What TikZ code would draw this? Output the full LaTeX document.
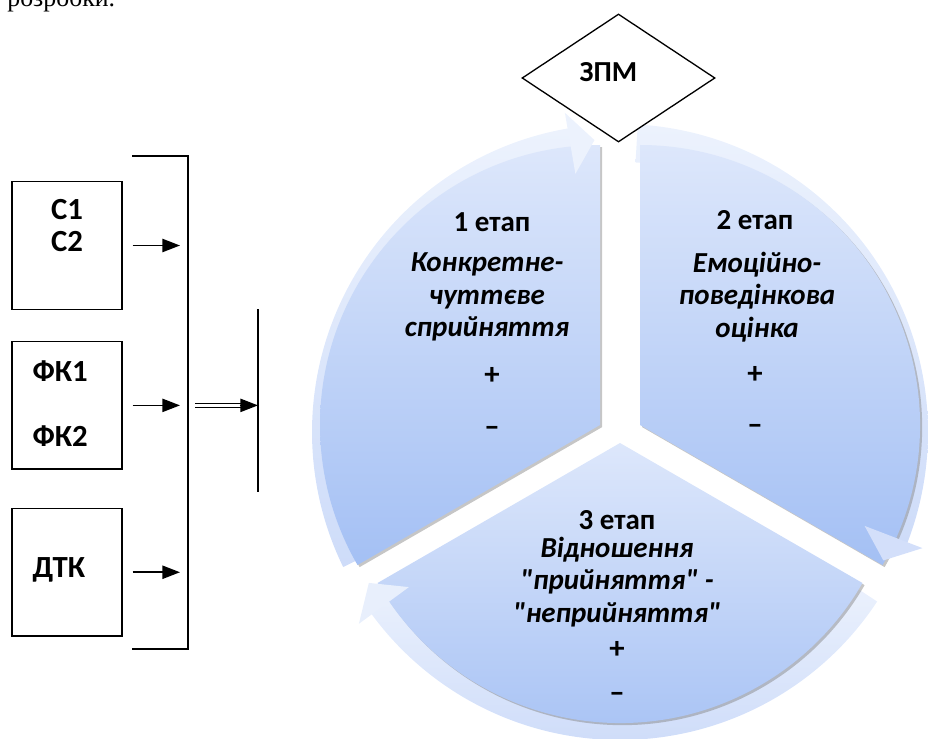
\documentclass[tikz,border=0pt]{standalone}
\usepackage{fontspec}
\setmainfont{Carlito}[Ligatures=TeXOff]
\newfontfamily\pagefont{Liberation Serif}
\usetikzlibrary{positioning, arrows.meta, shapes.geometric, shadows}

\definecolor{sectop}{RGB}{221,231,251}
\definecolor{secbot}{RGB}{164,192,244}
\definecolor{ringtop}{RGB}{236,242,253}
\definecolor{ringbot}{RGB}{206,220,249}

\tikzstyle{srcbox} = [rectangle, draw, line width=0.8pt, minimum width=2.2cm, minimum height=2.55cm]
\tikzstyle{boxtext} = [font=\fontsize{17.5}{18.7}\selectfont\bfseries, align=center, inner sep=0pt]
\tikzstyle{feed} = [line width=0.95pt, -{Triangle[length=10pt, width=7.5pt]}]
\tikzstyle{rail} = [line width=0.8pt]
\tikzstyle{merge} = [line width=0.6pt, double, double distance=1.7pt]
\tikzstyle{sector} = [top color=sectop, bottom color=secbot, drop shadow={shadow xshift=1.2pt, shadow yshift=-1.2pt, opacity=0.45}]
\tikzstyle{ring} = [top color=ringtop, bottom color=ringbot]
\tikzstyle{gate} = [diamond, draw, fill=white, line width=0.75pt, minimum width=3.86cm, minimum height=2.56cm, inner sep=0pt]
\tikzstyle{gatetext} = [font=\fontsize{16.5}{18}\selectfont\bfseries, inner sep=0pt]
\tikzstyle{stage} = [font=\fontsize{16.5}{18.4}\selectfont\bfseries, align=center, inner sep=0pt]
\tikzstyle{descr} = [font=\fontsize{16.5}{18.4}\selectfont\bfseries\itshape, align=center, inner sep=0pt]
\tikzstyle{sign} = [font=\fontsize{17.5}{18}\selectfont\bfseries, inner sep=0pt]

\begin{document}
\begin{tikzpicture}[x=0.02cm, y=0.02cm]
  \useasboundingbox (0,0) rectangle (928,738);

  % Page text cut off at the top
  \node (pagetext) [anchor=base west, inner sep=0pt, font=\pagefont\fontsize{14.7}{17}\selectfont] at (7,731) {розробки.};

  % Source blocks
  \node (box1) [srcbox] at (67,492.5) {};
  \node (box2) [srcbox, below=0.62cm of box1] {};
  \node (box3) [srcbox, below=0.76cm of box2] {};

  \node (c12) [boxtext] at ([yshift=-0.89cm]box1.north) {С1\\С2};
  \node (fk1) [boxtext, anchor=west] at ([xshift=0.42cm, yshift=-0.6cm]box2.north west) {ФК1};
  \node (fk2) [boxtext, anchor=west] at ([xshift=0.42cm, yshift=-1.9cm]box2.north west) {ФК2};
  \node (dtk) [boxtext, anchor=west] at ([xshift=0.42cm, yshift=-1.24cm]box3.north west) {ДТК};

  % Bracket and collector line
  \coordinate (brtop) at (188,582);
  \coordinate (brbot) at (188,89);
  \coordinate (coltop) at (258,429);
  \coordinate (colbot) at (258,246);
  \draw[rail] (brtop) ++(-56,0) -- (brtop) -- (brbot) -- ++(-56,0);
  \draw[rail, line width=0.6pt] (coltop) -- (colbot);

  % Arrows into the bracket
  \draw[feed, shorten <=0.2cm, shorten >=0.16cm] (box1.east) -- (box1.east -| brtop);
  \draw[feed, shorten <=0.2cm, shorten >=0.16cm] (box2.east) -- (box2.east -| brtop);
  \draw[feed, shorten <=0.2cm, shorten >=0.16cm] (box3.east) -- (box3.east -| brtop);

  % Double arrow to the collector
  \coordinate (mergestart) at (box2.east -| brtop);
  \coordinate (mergeend) at (box2.east -| coltop);
  \draw[merge, shorten <=0.14cm, shorten >=8pt] (mergestart) -- (mergeend);
  \draw[feed] ([xshift=-10.5pt]mergeend) -- (mergeend);

  % Cycle
  \coordinate (ctr) at (620,306);
  \coordinate (apex1) at (600,313);
  \coordinate (apex2) at (640,313);
  \coordinate (apex3) at (620,295);

  % Ring bodies (behind the sectors)
  \path[ring] ([shift={(206:308)}]ctr) arc[start angle=206, end angle=99.5, radius=308]
    -- ([shift={(99.5:270)}]ctr) arc[start angle=99.5, end angle=206, radius=270] -- cycle;
  \path[ring] ([shift={(86.7:308)}]ctr) arc[start angle=86.7, end angle=-21.3, radius=308]
    -- ([shift={(-21.3:270)}]ctr) arc[start angle=-21.3, end angle=86.7, radius=270] -- cycle;
  \path[ring] ([shift={(-33.4:308)}]ctr) arc[start angle=-33.4, end angle=-144, radius=308]
    -- ([shift={(-144:270)}]ctr) arc[start angle=-144, end angle=-33.4, radius=270] -- cycle;

  % Sectors
  \path[sector] (apex1) -- ++(90:280) arc[start angle=90, end angle=210, radius=280] -- cycle;
  \path[sector] (apex2) -- ++(-30:280) arc[start angle=-30, end angle=90, radius=280] -- cycle;
  \path[sector] (apex3) -- ++(210:280) arc[start angle=210, end angle=330, radius=280] -- cycle;

  % Ring heads (over the sectors)
  \fill[ringtop] ([shift={(99.8:324)}]ctr) -- ([shift={(95:293)}]ctr) -- ([shift={(99.8:262)}]ctr) -- cycle;
  \fill[ringbot!85!ringtop] ([shift={(-21:324)}]ctr) -- ([shift={(-26:293)}]ctr) -- ([shift={(-21:262)}]ctr) -- cycle;
  \fill[ringtop!85!ringbot] ([shift={(-143.7:324)}]ctr) -- ([shift={(-149:293)}]ctr) -- ([shift={(-143.7:262)}]ctr) -- cycle;

  % Goal
  \node (zpm) [gate] at (618.5,660) {};
  \node (zpmtext) [gatetext] at ([xshift=-0.2cm, yshift=0.12cm]zpm.center) {ЗПМ};

  % Stage 1
  \node (st1) [stage] at (492,516) {1 етап};
  \node (ds1) [descr] at ([xshift=-0.1cm, yshift=-1.5cm]st1) {Конкретне-\\чуттєве\\сприйняття};
  \node (plus1) [sign] at ([yshift=-3.08cm]st1) {+};
  \node (minus1) [sign] at ([yshift=-1.12cm]plus1) {–};

  % Stage 2
  \node (st2) [stage] at (755,518) {2 етап};
  \node (ds2) [descr] at ([xshift=0.04cm, yshift=-1.54cm]st2) {Емоційно-\\поведінкова\\оцінка};
  \node (plus2) [sign] at ([yshift=-3.1cm]st2) {+};
  \node (minus2) [sign] at ([yshift=-1.1cm]plus2) {–};

  % Stage 3
  \node (st3) [stage] at (617,218) {3 етап};
  \node (ds3) [descr] at ([yshift=-1.24cm]st3) {Відношення\\"прийняття" -\\"неприйняття"};
  \node (plus3) [sign] at ([yshift=-2.6cm]st3) {+};
  \node (minus3) [sign] at ([yshift=-0.94cm]plus3) {–};

\end{tikzpicture}
\end{document}
